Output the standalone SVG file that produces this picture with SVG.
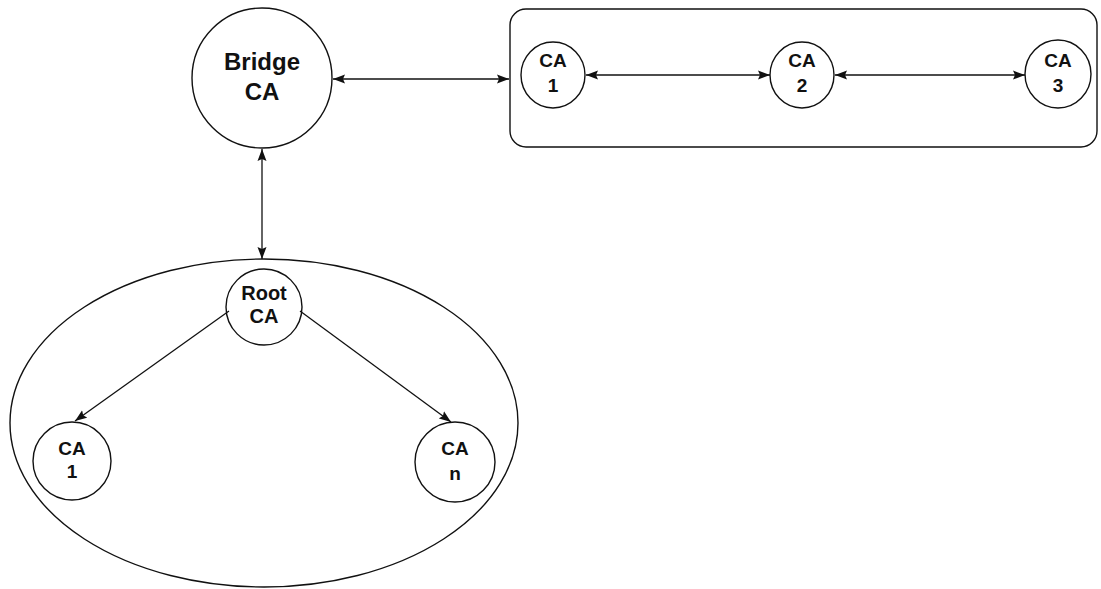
<svg xmlns="http://www.w3.org/2000/svg" width="1101" height="589" viewBox="0 0 1101 589">
<style>
.s{fill:none;stroke:#111;stroke-width:1.4}
.c{stroke:#111;stroke-width:1.3;fill:none}
.t{font-family:"Liberation Sans",Arial,sans-serif;font-weight:bold;fill:#111;text-anchor:middle}
</style>
<defs>
<marker id="a" viewBox="0 0 12 10" refX="12" refY="5" markerWidth="12" markerHeight="10" markerUnits="userSpaceOnUse" orient="auto-start-reverse">
<path d="M0,0.5 L12,5 L0,9.5 L2,5 Z" fill="#111"/>
</marker>
</defs>
<rect width="1101" height="589" fill="#fff"/>
<g id="domain-group">
<rect class="s" x="510" y="9" width="587" height="138" rx="16" ry="16"/>
</g>
<g id="hierarchy-group">
<ellipse class="s" cx="264" cy="423" rx="254" ry="164"/>
</g>
<g id="bridge-ca">
<circle class="s" cx="262" cy="78" r="70"/>
<text class="t" x="262" y="70" font-size="24">Bridge</text>
<text class="t" x="262" y="100" font-size="24">CA</text>
</g>
<g id="mesh-ca1">
<ellipse class="s" cx="553" cy="75" rx="32" ry="33"/>
<text class="t" x="553" y="67" font-size="19">CA</text>
<text class="t" x="553" y="92" font-size="19">1</text>
</g>
<g id="mesh-ca2">
<ellipse class="s" cx="802" cy="75" rx="32" ry="33"/>
<text class="t" x="802" y="67" font-size="19">CA</text>
<text class="t" x="802" y="92" font-size="19">2</text>
</g>
<g id="mesh-ca3">
<ellipse class="s" cx="1058" cy="74" rx="33" ry="34"/>
<text class="t" x="1058" y="67" font-size="19">CA</text>
<text class="t" x="1058" y="92" font-size="19">3</text>
</g>
<g id="root-ca">
<circle class="s" cx="264" cy="307" r="38"/>
<text class="t" x="264" y="300" font-size="20">Root</text>
<text class="t" x="264" y="323" font-size="20">CA</text>
</g>
<g id="sub-ca1">
<circle class="s" cx="72" cy="461" r="39"/>
<text class="t" x="72" y="455" font-size="19">CA</text>
<text class="t" x="72" y="478" font-size="19">1</text>
</g>
<g id="sub-can">
<circle class="s" cx="455" cy="462" r="40"/>
<text class="t" x="455" y="455" font-size="19">CA</text>
<text class="t" x="455" y="480" font-size="19">n</text>
</g>
<g id="connectors">
<line class="c" x1="333" y1="79" x2="509" y2="79" marker-start="url(#a)" marker-end="url(#a)"/>
<line class="c" x1="586" y1="75" x2="770" y2="75" marker-start="url(#a)" marker-end="url(#a)"/>
<line class="c" x1="835" y1="75" x2="1025" y2="75" marker-start="url(#a)" marker-end="url(#a)"/>
<line class="c" x1="262" y1="149" x2="262" y2="259" marker-start="url(#a)" marker-end="url(#a)"/>
<line class="c" x1="229" y1="311" x2="75" y2="421" marker-end="url(#a)"/>
<line class="c" x1="300" y1="311" x2="451" y2="422" marker-end="url(#a)"/>
</g>
</svg>
